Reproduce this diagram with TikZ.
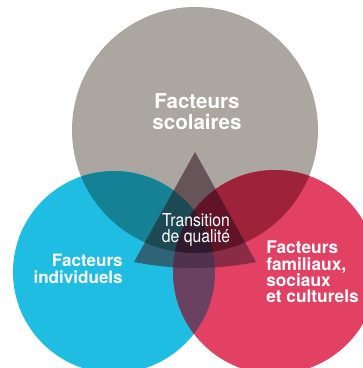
\documentclass[tikz,border=0pt]{standalone}
\usepackage{fontspec}
\setmainfont{TeX Gyre Heros}
\newfontfamily\narrowfont[FakeStretch=0.88]{TeX Gyre Heros}
\usepackage{tikz}

\definecolor{scolGray}{HTML}{ABA6A0}
\definecolor{indivCyan}{HTML}{20BDE3}
\definecolor{famPink}{HTML}{E24163}
\definecolor{grayCyan}{HTML}{148294}
\definecolor{grayPink}{HTML}{9E223A}
\definecolor{cyanPink}{HTML}{6A4160}
\definecolor{triGray}{HTML}{675458}
\definecolor{triCyan}{HTML}{2E6478}
\definecolor{triPink}{HTML}{8A2C46}
\definecolor{triCyanPink}{HTML}{50324F}
\definecolor{triGrayCyan}{HTML}{1D4955}
\definecolor{triGrayPink}{HTML}{611428}
\definecolor{triAll}{HTML}{301A2E}

\begin{document}
\begin{tikzpicture}[x=0.75pt, y=-0.75pt]
%% coordinates are in pixels of the drawing, y grows downwards
\tikzstyle{venntext}=[text=white, inner sep=0pt]
\tikzstyle{bigtext}=[venntext, align=center, font=\bfseries\fontsize{15.4}{15.8}\selectfont]
\tikzstyle{sidetext}=[venntext, font=\bfseries\fontsize{12.8}{12.3}\selectfont]
\tikzstyle{midtext}=[venntext, align=center, font=\narrowfont\fontsize{13.4}{12.6}\selectfont]
\def\scolcircle{(195,130) circle[radius=92.25pt]}
\def\indivcircle{(114,272) circle[radius=75.75pt]}
\def\famcircle{(275,272) circle[radius=76.5pt]}
\def\tripath{(195,152) -- (134,262) .. controls (175,270) and (215,270) .. (256,262) -- cycle}
\useasboundingbox (0,0) rectangle (363,368);
\clip (0,0) rectangle (363,368);
%% the three circles
\fill[scolGray] \scolcircle;
\fill[indivCyan] \indivcircle;
\fill[famPink] \famcircle;
%% overlaps of two circles
\begin{scope}
\clip \scolcircle;
\fill[grayCyan] \indivcircle;
\fill[grayPink] \famcircle;
\end{scope}
\begin{scope}
\clip \indivcircle;
\fill[cyanPink] \famcircle;
\end{scope}
%% the triangle in the middle
\begin{scope}
\clip \tripath;
\fill[triCyan] \indivcircle;
\fill[triPink] \famcircle;
\begin{scope}
\clip \indivcircle;
\fill[triCyanPink] \famcircle;
\end{scope}
\fill[triGray] \scolcircle;
\clip \scolcircle;
\fill[triGrayCyan] \indivcircle;
\fill[triGrayPink] \famcircle;
\clip \indivcircle;
\fill[triAll] \famcircle;
\end{scope}
%% labels
\node[bigtext] (scolaires) at (197,112) {Facteurs\\scolaires};
\node[sidetext, align=right, anchor=east] (individuels) at (123,269) {Facteurs\\individuels};
\node[sidetext, align=left, anchor=west, font=\bfseries\fontsize{13}{12.3}\selectfont] (familiaux) at (266,272) {Facteurs\\familiaux,\\sociaux\\et culturels};
\node[midtext] (transition) at (196,230) {Transition\\de qualité};
\end{tikzpicture}
\end{document}
